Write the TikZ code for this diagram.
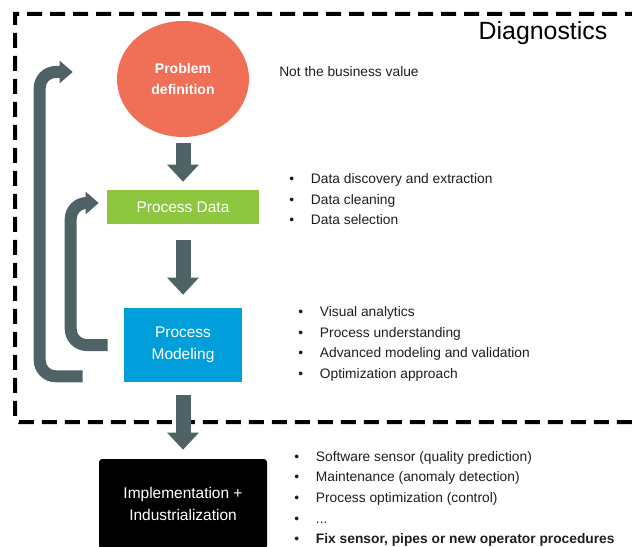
\documentclass[tikz,border=0pt]{standalone}
\usepackage{fontspec}
\setmainfont{Liberation Sans}
\usepackage{tikz}
\usetikzlibrary{arrows.meta,shapes.geometric}

\definecolor{salmon}{RGB}{240,112,87}
\definecolor{leaf}{RGB}{141,198,63}
\definecolor{sky}{RGB}{0,159,219}
\definecolor{slate}{RGB}{79,99,103}
\definecolor{ink}{RGB}{30,30,30}

\tikzset{
  box/.style={text=white,inner sep=0pt,align=center,font=\fontsize{11}{15.6}\selectfont},
  down/.style={slate,line width=.375cm,-{Triangle[width=.775cm,length=.43cm]}},
  back/.style={slate,line width=.3cm,rounded corners=.4cm,-{Triangle[width=.55cm,length=.33cm]}},
  list/.style={anchor=west,inner sep=0pt,text=ink,font=\fontsize{9.8}{14.6}\selectfont}
}

\begin{document}
\begin{tikzpicture}
  \useasboundingbox (0,0) rectangle (15.8,13.65);
  \draw[line width=.1cm,dash pattern=on .375cm off .2cm] (16,13.3) -- (.375,13.3) {[rounded corners=.1cm] -- (.375,3.1)} -- (16,3.1);
  \node[font=\fontsize{17.7}{20}\selectfont] (diag) at (13.575,12.825) {Diagnostics};

  \node[ellipse,fill=salmon,minimum width=3.3cm,minimum height=2.9cm,box,font=\bfseries\fontsize{10}{15}\selectfont] (pc) at (4.575,11.675) {Problem\\definition};
  \node[box,fill=leaf,minimum width=3.8cm,minimum height=.85cm] (pd) at (4.575,8.475) {Process Data};
  \node[box,fill=sky,minimum width=2.95cm,minimum height=1.85cm] (pm) at (4.575,5.025) {Process\\Modeling};
  \node[box,fill=black,rounded corners=.08cm,minimum width=4.2cm,minimum height=2.25cm] (ii) at (4.575,1.05) {Implementation +\\Industrialization};

  \node[list] (nb) at (6.975,11.85) {Not the business value};
  \node[list] (dl) at (7.225,8.65) {\begin{tabular}{@{}l@{\hspace{12pt}}l@{}}
    \textbullet & Data discovery and extraction\\
    \textbullet & Data cleaning\\
    \textbullet & Data selection
  \end{tabular}};
  \node[list] (ml) at (7.45,5.06) {\begin{tabular}{@{}l@{\hspace{12pt}}l@{}}
    \textbullet & Visual analytics\\
    \textbullet & Process understanding\\
    \textbullet & Advanced modeling and validation\\
    \textbullet & Optimization approach
  \end{tabular}};
  \node[list] (il) at (7.35,1.19) {\begin{tabular}{@{}l@{\hspace{12pt}}l@{}}
    \textbullet & Software sensor (quality prediction)\\
    \textbullet & Maintenance (anomaly detection)\\
    \textbullet & Process optimization (control)\\
    \textbullet & ...\\
    \textbullet & \textbf{Fix sensor, pipes or new operator procedures}
  \end{tabular}};

  \draw[down,shorten <=.15cm,shorten >=.2cm] (pc) -- (pd);
  \draw[down,shorten <=.4cm,shorten >=.325cm] (pd) -- (pm);
  \draw[down,shorten <=.325cm,shorten >=.225cm] (pm) -- (ii);
  \draw[back] ([xshift=-.4cm]pm.west) -- ++(-.925,0) |- ([xshift=-.2cm,yshift=.1cm]pd.west);
  \draw[back] ([xshift=-1.025cm,yshift=.15cm]pm.south west) -- ++(-1.075,0) |- ([xshift=-1.1cm,yshift=.175cm]pc.west);
\end{tikzpicture}
\end{document}
